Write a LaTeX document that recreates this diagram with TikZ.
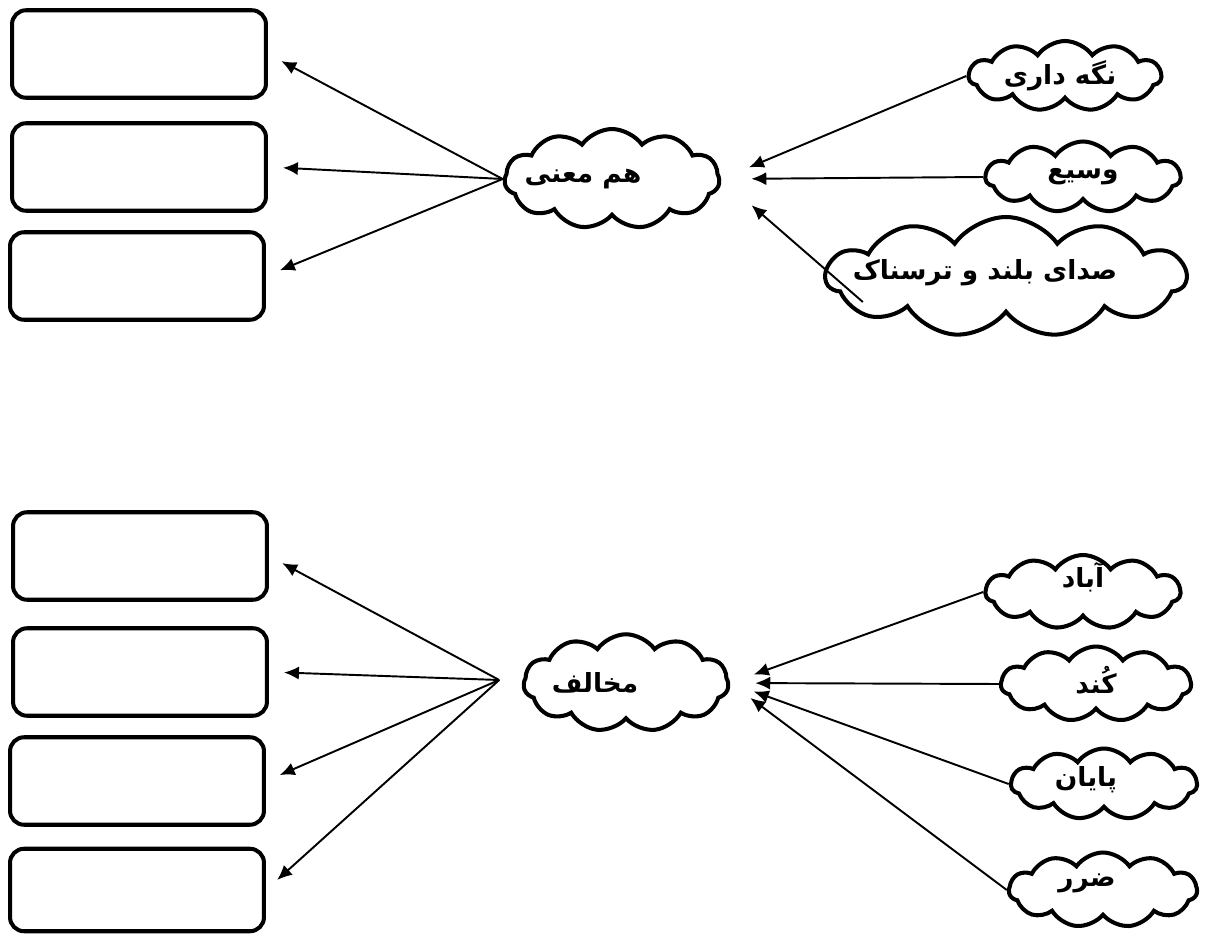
\documentclass[tikz,border=0pt]{standalone}
\usepackage{fontspec}
\newfontfamily\persfont[Script=Arabic]{DejaVu Sans}
\TeXXeTstate=1
\usetikzlibrary{shapes.symbols,arrows.meta}

\begin{document}
\begin{tikzpicture}[x=0.02cm,y=-0.02cm,
  box/.style={draw,line width=2.3pt,rounded corners=8pt,minimum width=5.08cm,minimum height=1.75cm},
  wordcloud/.style={draw,cloud,cloud puffs=11,cloud puff arc=110,line width=2.3pt,inner sep=0pt},
  word/.style={font=\persfont\bfseries\fontsize{15}{18}\selectfont},
  arr/.style={line width=1.1pt,-{Latex[length=8.5pt,width=7.5pt]}}]
\useasboundingbox (0,0) rectangle (1208,936);

% empty answer boxes
\node[box] (b1) at (139,54) {};
\node[box] (b2) at (139,167) {};
\node[box] (b3) at (137,276) {};
\node[box] (b4) at (140,556) {};
\node[box] (b5) at (140,672) {};
\node[box] (b6) at (137,781) {};
\node[box,minimum height=1.65cm] (b7) at (137,890) {};

% clouds, top group
\node[wordcloud,aspect=2.1,minimum width=4.3cm,minimum height=2cm,
  label={[word,xshift=-0.58cm]center:\beginR هم معنی\endR}] (hm) at (612,179) {};
\node[wordcloud,aspect=2.7,minimum width=3.85cm,minimum height=1.4cm,
  label={[word,xshift=-0.1cm]center:\beginR نگه داری\endR}] (nd) at (1065,76) {};
\node[wordcloud,aspect=2.7,minimum width=3.9cm,minimum height=1.42cm,
  label={[word]center:\beginR وسیع\endR}] (vs) at (1083,177) {};
\node[wordcloud,aspect=3,minimum width=7.2cm,minimum height=2.4cm,
  label={[word,xshift=-0.42cm,yshift=0.08cm]center:\beginR صدای بلند و ترسناک\endR}] (sd) at (1006,277) {};
\coordinate (sdtail) at ([xshift=0.8cm,yshift=-0.5cm]sd.west);

% clouds, bottom group
\node[wordcloud,aspect=2.1,minimum width=4.1cm,minimum height=1.95cm,
  label={[word,xshift=-0.62cm]center:\beginR مخالف\endR}] (mk) at (626,683) {};
\coordinate (mktail) at ([xshift=-0.45cm,yshift=0.06cm]mk.west);
\node[wordcloud,aspect=2.6,minimum width=3.9cm,minimum height=1.48cm,
  label={[word,yshift=0.3cm]center:\beginR آباد\endR}] (ab) at (1083,592) {};
\node[wordcloud,aspect=2.5,minimum width=3.8cm,minimum height=1.5cm,
  label={[word,yshift=0.08cm]center:\beginR کُند\endR}] (kd) at (1096,684) {};
\node[wordcloud,aspect=2.6,minimum width=3.72cm,minimum height=1.42cm,
  label={[word,xshift=-0.36cm,yshift=0.08cm]center:\beginR پایان\endR}] (py) at (1104,784) {};
\node[wordcloud,aspect=2.5,minimum width=3.76cm,minimum height=1.5cm,
  label={[word,xshift=-0.32cm,yshift=0.14cm]center:\beginR ضرر\endR}] (zr) at (1103,890) {};

% arrows, top group
\draw[arr,shorten >=0.3cm] (hm.west) -- (b1.east);
\draw[arr,shorten >=0.3cm] (hm.west) -- (b2.east);
\draw[arr,shorten >=0.3cm] (hm.west) -- (b3.east);
\draw[arr,shorten >=0.6cm] (nd.west) -- (hm.east);
\draw[arr,shorten >=0.6cm] (vs.west) -- (hm.east);
\draw[arr,shorten >=0.8cm] (sdtail) -- (hm.east);

% arrows, bottom group
\draw[arr,shorten >=0.3cm] (mktail) -- (b4.east);
\draw[arr,shorten >=0.3cm] (mktail) -- (b5.east);
\draw[arr,shorten >=0.3cm] (mktail) -- (b6.east);
\draw[arr,shorten >=0.3cm] (mktail) -- (b7.east);
\draw[arr,shorten >=0.5cm] (ab.west) -- (mk.east);
\draw[arr,shorten >=0.5cm] (kd.west) -- (mk.east);
\draw[arr,shorten >=0.5cm] (py.west) -- (mk.east);
\draw[arr,shorten >=0.5cm] (zr.west) -- (mk.east);
\end{tikzpicture}
\end{document}
